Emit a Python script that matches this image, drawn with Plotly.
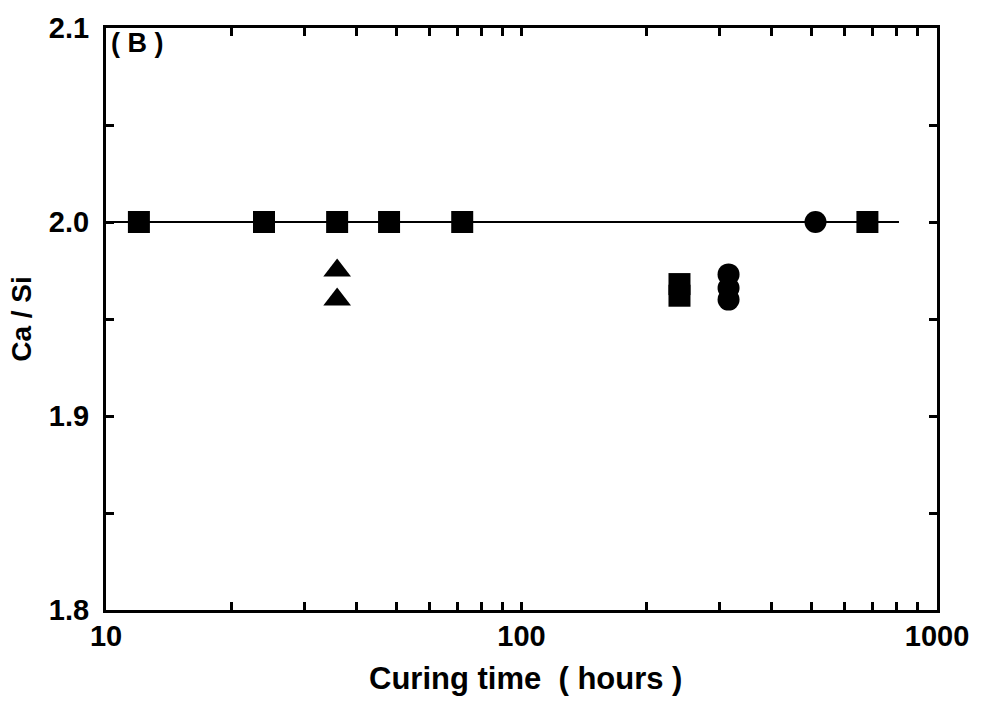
import plotly.graph_objects as go

# ---- data ----
square_x = [12, 24, 36, 48, 72, 240, 240, 680]
square_y = [2.0, 2.0, 2.0, 2.0, 2.0, 1.968, 1.962, 2.0]

triangle_x = [36, 36]
triangle_y = [1.975, 1.960]

circle_x = [315, 315, 315, 510]
circle_y = [1.973, 1.966, 1.960, 2.0]

line_x = [10, 810]
line_y = [2.0, 2.0]

x_tickvals = [10, 20, 30, 40, 50, 60, 70, 80, 90,
              100, 200, 300, 400, 500, 600, 700, 800, 900, 1000]
x_ticktext = ["10", "", "", "", "", "", "", "", "",
              "100", "", "", "", "", "", "", "", "", "1000"]
y_tickvals = [1.8, 1.85, 1.9, 1.95, 2.0, 2.05, 2.1]
y_ticktext = ["1.8", "", "1.9", "", "2.0", "", "2.1"]

FONT = "Liberation Sans"

fig = go.Figure()
fig.add_trace(go.Scatter(x=line_x, y=line_y, mode="lines",
                         line=dict(color="black", width=2.2), showlegend=False))
fig.add_trace(go.Scatter(x=square_x, y=square_y, mode="markers",
                         marker=dict(symbol="square", size=22, color="black",
                                     line=dict(width=0)), showlegend=False))
fig.add_trace(go.Scatter(x=triangle_x, y=triangle_y, mode="markers",
                         marker=dict(symbol="triangle-up", size=24, color="black",
                                     line=dict(width=0)), showlegend=False))
fig.add_trace(go.Scatter(x=circle_x, y=circle_y, mode="markers",
                         marker=dict(symbol="circle", size=22, color="black",
                                     line=dict(width=0)), showlegend=False))

axis_common = dict(showline=True, linecolor="black", linewidth=3,
                   mirror="ticks", ticks="inside", ticklen=8, tickwidth=2.5,
                   tickcolor="black", showgrid=False, zeroline=False,
                   tickfont=dict(family=FONT, size=29, color="black", weight="bold"))

fig.update_xaxes(type="log", range=[1, 3], tickmode="array",
                 tickvals=x_tickvals, ticktext=x_ticktext,
                 ticklabelstandoff=-2,
                 **axis_common)
fig.update_yaxes(range=[1.8, 2.1], tickmode="array",
                 tickvals=y_tickvals, ticktext=y_ticktext,
                 ticklabelstandoff=8,
                 title=dict(text="Ca / Si", standoff=10,
                            font=dict(family=FONT, size=28, color="black", weight="bold")),
                 **axis_common)

fig.add_annotation(x=0.5054, y=-0.0835, xref="paper", yref="paper",
                   xanchor="center", yanchor="top", showarrow=False,
                   text="Curing time  ( hours )",
                   font=dict(family=FONT, size=31, color="black", weight="bold"))

fig.add_annotation(x=0.004, y=1.003, xref="paper", yref="paper",
                   xanchor="left", yanchor="top", showarrow=False,
                   text="( B )", font=dict(family=FONT, size=27, color="black", weight="bold"))

fig.update_layout(width=982, height=702,
                  margin=dict(l=106, r=45, t=23, b=92),
                  paper_bgcolor="white", plot_bgcolor="white")

fig.write_html("out.html")
